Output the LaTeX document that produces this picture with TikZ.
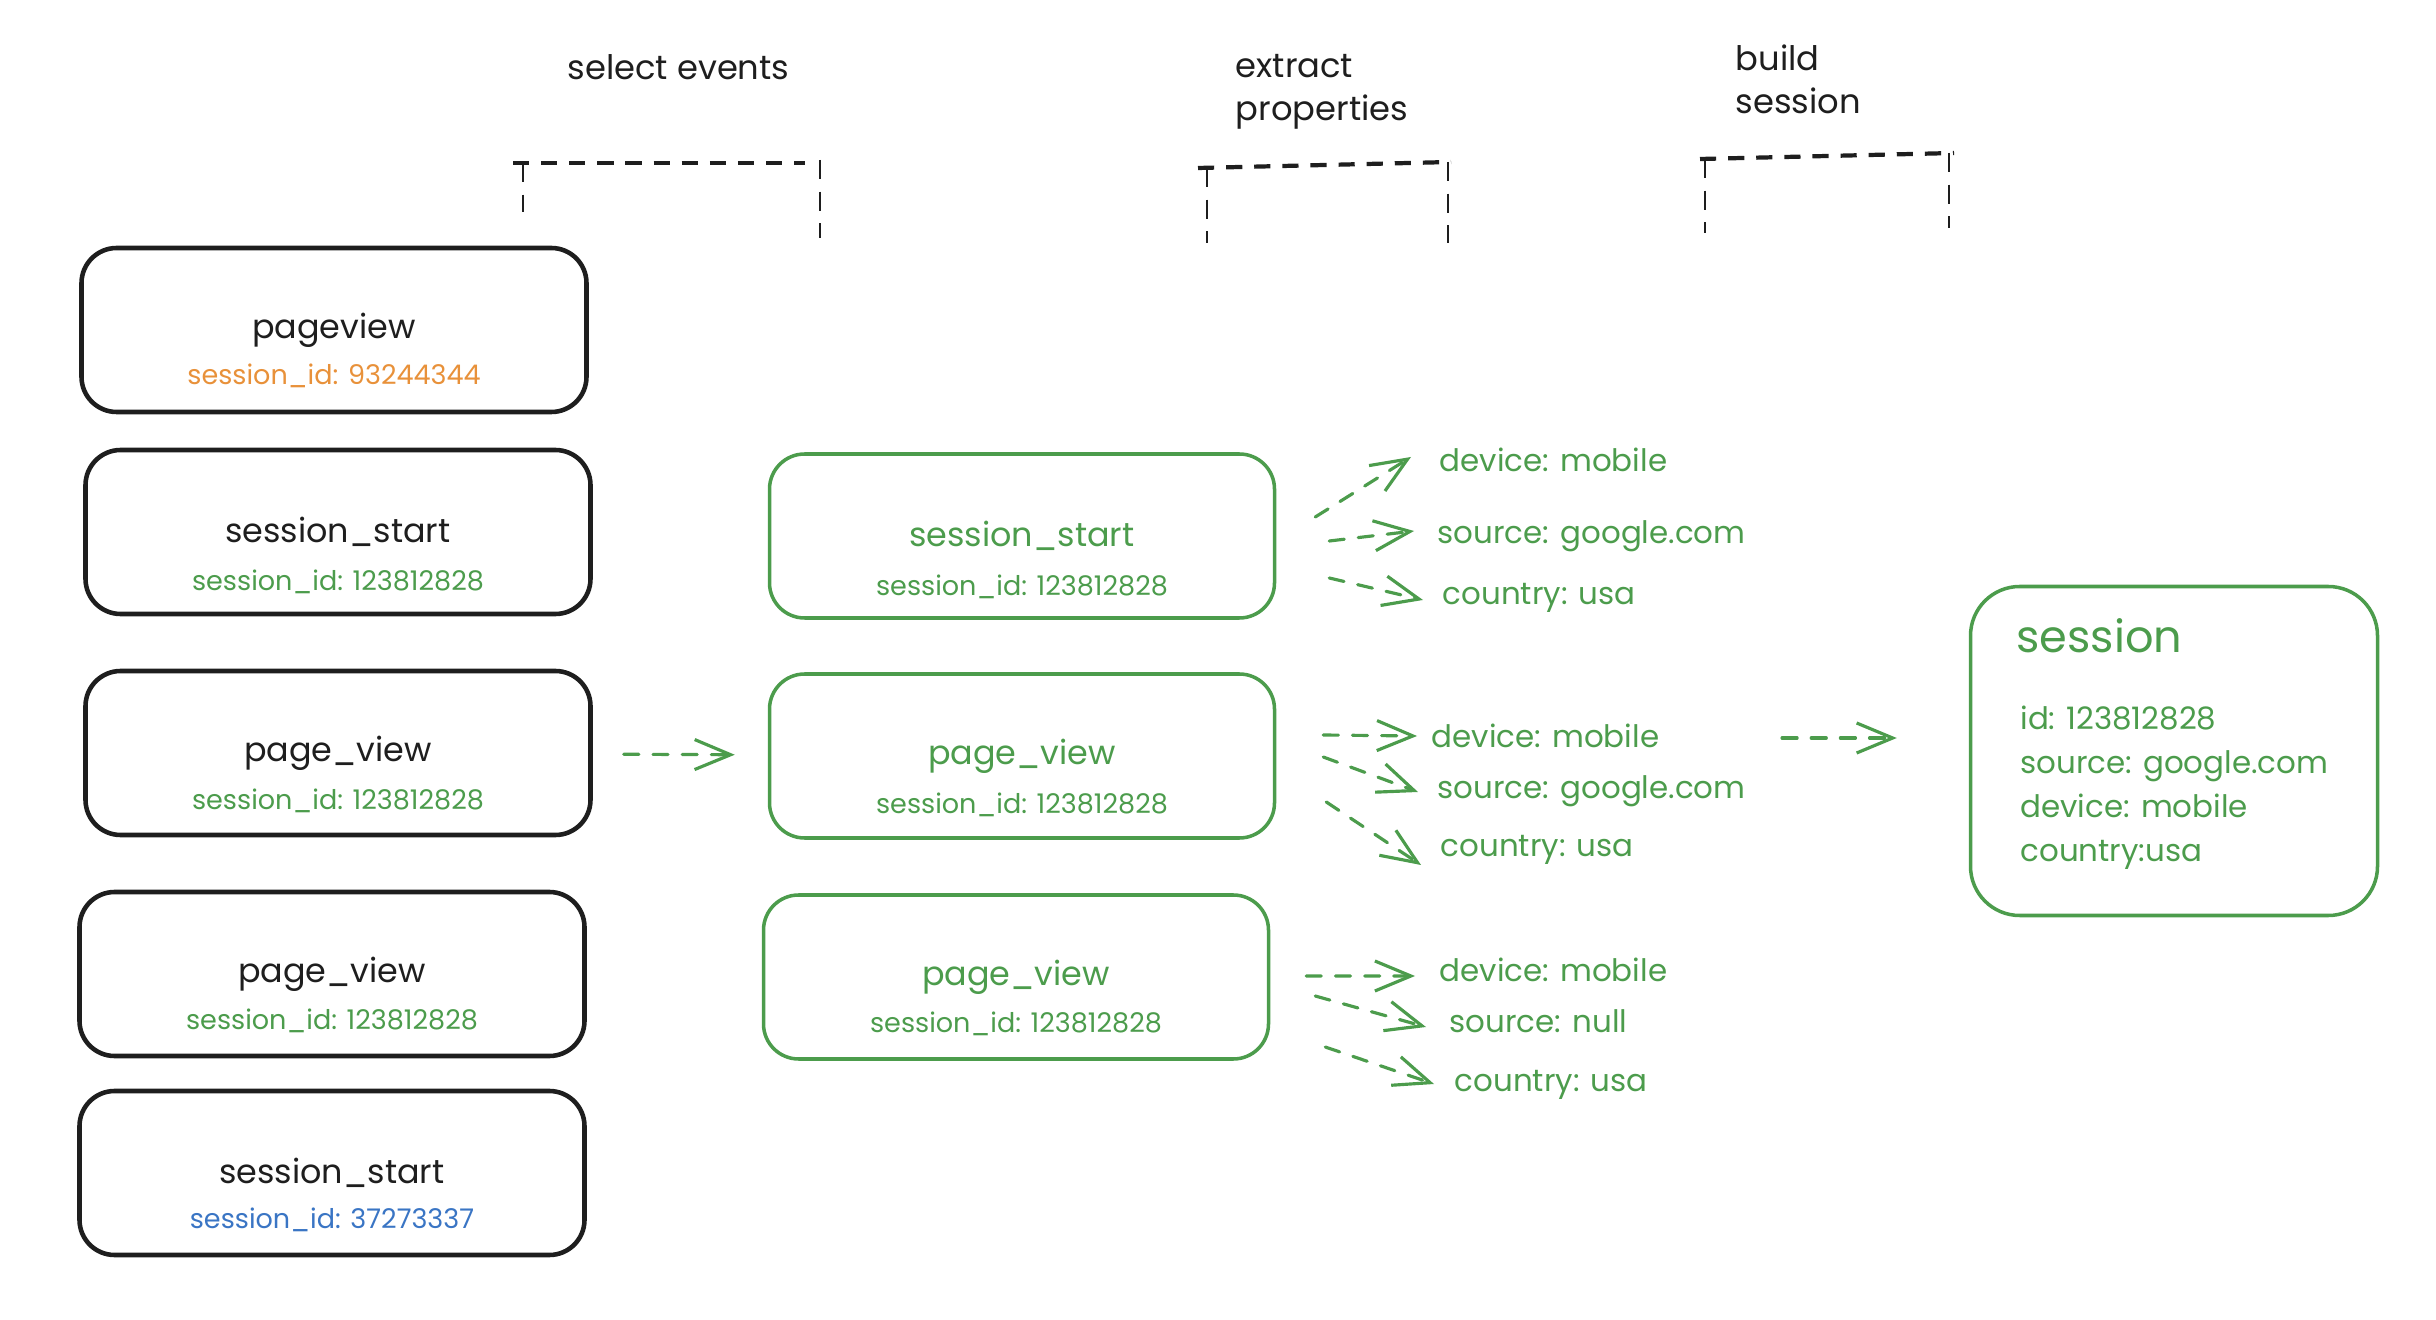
\documentclass[tikz,border=0pt]{standalone}
\usepackage{fontspec}
\setmainfont{Poppins}
\usetikzlibrary{arrows.meta}
\definecolor{ink}{HTML}{1E1E1E}
\definecolor{leaf}{HTML}{4C9C4C}
\definecolor{amber}{HTML}{E8913A}
\definecolor{ocean}{HTML}{3A75C4}
\begin{document}
\begin{tikzpicture}[
    font=\fontsize{9.5}{11}\selectfont,
    event/.style={draw=ink, line width=1.3pt, rectangle, rounded corners=10pt, minimum width=5.05cm, minimum height=1.64cm, text=ink},
    picked/.style={event, draw=leaf, line width=1pt, text=leaf},
    sid/.style={font=\fontsize{7.7}{9}\selectfont, inner sep=0pt},
    prop/.style={text=leaf, anchor=west, inner sep=0pt, font=\fontsize{8.8}{11}\selectfont},
    stage/.style={text=ink, anchor=west, align=left, inner sep=0pt, font=\fontsize{9.6}{12.2}\selectfont},
    flow/.style={leaf, line width=0.9pt, line cap=round, dash pattern=on 4.3pt off 4pt, -{Straight Barb[length=3.6mm, width=3mm]}},
    bracket/.style={ink, line width=1.2pt, dash pattern=on 4.6pt off 3.4pt},
    leg/.style={ink, line width=0.7pt, dash pattern=on 5.4pt off 3.6pt}
]
    \useasboundingbox (0,0) rectangle (24.36,-13.20);

    \node[stage] (sel) at (5.67,-0.67) {select events};
    \node[stage] (ext) at (12.35,-0.92) {extract\\properties};
    \node[stage] (bld) at (17.35,-0.79) {build\\session};

    \draw[bracket] (5.13,-1.63) -- (8.05,-1.63);
    \draw[leg] (5.23,-1.63) -- (5.23,-2.12);
    \draw[leg] (8.20,-1.60) -- (8.20,-2.38);
    \draw[bracket] (11.98,-1.68) -- (14.51,-1.62);
    \draw[leg] (12.07,-1.68) -- (12.07,-2.43);
    \draw[leg] (14.48,-1.62) -- (14.48,-2.43);
    \draw[bracket] (17.00,-1.59) -- (19.54,-1.53);
    \draw[leg] (17.05,-1.59) -- (17.05,-2.33);
    \draw[leg] (19.49,-1.53) -- (19.49,-2.28);

    \node[event] (ev1) at (3.34,-3.30) {pageview};
    \node[sid, text=amber] at ([yshift=-0.46cm]ev1.center) {session\_id: 93244344};
    \node[event] (ev2) at (3.38,-5.32) {session\_start};
    \node[sid, text=leaf] at ([yshift=-0.50cm]ev2.center) {session\_id: 123812828};
    \node[event] (ev3) at (3.38,-7.53) {page\_view};
    \node[sid, text=leaf] at ([yshift=-0.48cm]ev3.center) {session\_id: 123812828};
    \node[event] (ev4) at (3.32,-9.74) {page\_view};
    \node[sid, text=leaf] at ([yshift=-0.47cm]ev4.center) {session\_id: 123812828};
    \node[event] (ev5) at (3.32,-11.73) {session\_start};
    \node[sid, text=ocean] at ([yshift=-0.47cm]ev5.center) {session\_id: 37273337};

    \node[picked] (m1) at (10.22,-5.36) {session\_start};
    \node[sid, text=leaf] at ([yshift=-0.51cm]m1.center) {session\_id: 123812828};
    \node[picked] (m2) at (10.22,-7.56) {page\_view};
    \node[sid, text=leaf] at ([yshift=-0.49cm]m2.center) {session\_id: 123812828};
    \node[picked] (m3) at (10.16,-9.77) {page\_view};
    \node[sid, text=leaf] at ([yshift=-0.47cm]m3.center) {session\_id: 123812828};

    \draw[flow, shorten <=0.31cm, shorten >=0.33cm] (ev3) -- (m2);

    \node[prop] (d1) at (14.39,-4.60) {device: mobile};
    \node[prop] (s1) at (14.37,-5.36) {source: google.com};
    \node[prop] (c1) at (14.42,-5.98) {country: usa};
    \node[prop] (d2) at (14.31,-7.36) {device: mobile};
    \node[prop] (s2) at (14.37,-7.91) {source: google.com};
    \node[prop] (c2) at (14.40,-8.50) {country: usa};
    \node[prop] (d3) at (14.39,-9.70) {device: mobile};
    \node[prop] (s3) at (14.49,-10.21) {source: null};
    \node[prop] (c3) at (14.54,-10.85) {country: usa};

    \draw[flow] ([shift={(0.39,0.19)}]m1.east) -- ([shift={(-0.28,0.03)}]d1.west);
    \draw[flow] ([shift={(0.53,-0.05)}]m1.east) -- ([shift={(-0.23,0.05)}]s1.west);
    \draw[flow] ([shift={(0.53,-0.42)}]m1.east) -- ([shift={(-0.19,-0.02)}]c1.west);
    \draw[flow] ([shift={(0.47,0.21)}]m2.east) -- ([shift={(-0.14,0.00)}]d2.west);
    \draw[flow] ([shift={(0.47,-0.01)}]m2.east) -- ([shift={(-0.19,-0.01)}]s2.west);
    \draw[flow] ([shift={(0.50,-0.46)}]m2.east) -- ([shift={(-0.19,-0.15)}]c2.west);
    \draw[flow] ([shift={(0.36,0.01)}]m3.east) -- ([shift={(-0.24,-0.06)}]d3.west);
    \draw[flow] ([shift={(0.45,-0.19)}]m3.east) -- ([shift={(-0.23,-0.06)}]s3.west);
    \draw[flow] ([shift={(0.55,-0.70)}]m3.east) -- ([shift={(-0.20,0.01)}]c3.west);

    \node[event, draw=leaf, line width=1pt, minimum width=4.07cm, minimum height=3.29cm, rounded corners=14pt] (sess) at (21.74,-7.51) {};
    \node[text=leaf, anchor=west, inner sep=0pt, font=\fontsize{12.7}{15}\selectfont] (stitle) at ([shift={(0.47,-0.51)}]sess.north west) {session};
    \node[text=leaf, anchor=north west, align=left, inner sep=0pt, font=\fontsize{8.8}{12.5}\selectfont] (sbody) at ([shift={(0.51,-1.21)}]sess.north west) {id: 123812828\\source: google.com\\device: mobile\\country:usa};

    \coordinate (gather) at (17.82,-7.38);
    \draw[flow, shorten >=0.72cm] (gather) -- (gather -| sess.west);
\end{tikzpicture}
\end{document}
